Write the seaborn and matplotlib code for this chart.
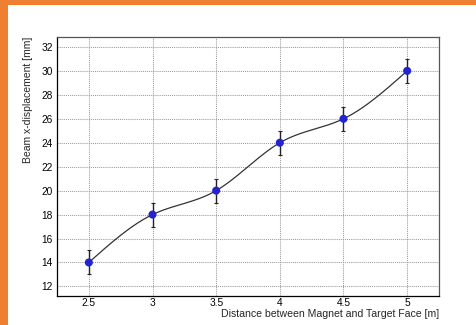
import numpy as np
import pandas as pd
import seaborn as sns
import matplotlib
matplotlib.use("Agg")
import matplotlib.pyplot as plt
from matplotlib.patches import Rectangle
from matplotlib.ticker import MultipleLocator

# ---- data ----
distance = [2.5, 3.0, 3.5, 4.0, 4.5, 5.0]
displacement = [14, 18, 20, 24, 26, 30]
disp_err = [1, 1, 1, 1, 1, 1]
x_ticks = [2.5, 3, 3.5, 4, 4.5, 5]
y_ticks = [12, 14, 16, 18, 20, 22, 24, 26, 28, 30, 32]
x_label = "Distance between Magnet and Target Face [m]"
y_label = "Beam x-displacement [mm]"

df = pd.DataFrame({"distance": distance, "displacement": displacement, "err": disp_err})


def natural_spline(x, y, n=300):
    x = np.asarray(x, float)
    y = np.asarray(y, float)
    k = len(x)
    h = np.diff(x)
    A = np.zeros((k, k))
    b = np.zeros(k)
    A[0, 0] = A[-1, -1] = 1
    for i in range(1, k - 1):
        A[i, i - 1] = h[i - 1]
        A[i, i] = 2 * (h[i - 1] + h[i])
        A[i, i + 1] = h[i]
        b[i] = 3 * ((y[i + 1] - y[i]) / h[i] - (y[i] - y[i - 1]) / h[i - 1])
    c = np.linalg.solve(A, b)
    xs = np.linspace(x[0], x[-1], n)
    ys = np.empty_like(xs)
    for j, xv in enumerate(xs):
        i = min(np.searchsorted(x, xv, side="right") - 1, k - 2)
        dx = xv - x[i]
        bi = (y[i + 1] - y[i]) / h[i] - h[i] * (2 * c[i] + c[i + 1]) / 3
        di = (c[i + 1] - c[i]) / (3 * h[i])
        ys[j] = y[i] + bi * dx + c[i] * dx ** 2 + di * dx ** 3
    return xs, ys


sns.set_style("white")
plt.rcParams["font.family"] = ["Liberation Sans", "DejaVu Sans"]

W, H = 477, 325
fig = plt.figure(figsize=(W / 100, H / 100), dpi=100)
fig.patch.set_facecolor("white")

# orange frame (top and left strips)
orange = "#ef7f31"
fig.patches.append(Rectangle((0, 1 - 5 / H), 1, 5 / H, transform=fig.transFigure,
                             facecolor=orange, edgecolor="none", zorder=0))
fig.patches.append(Rectangle((0, 0), 8 / W, 1, transform=fig.transFigure,
                             facecolor=orange, edgecolor="none", zorder=0))

left, right, top, bottom = 57, 439, 37, 296
ax = fig.add_axes([left / W, 1 - bottom / H, (right - left) / W, (bottom - top) / H])

# smooth curve through the points
cx, cy = natural_spline(df["distance"], df["displacement"])
sns.lineplot(x=cx, y=cy, ax=ax, color="#333333", linewidth=0.9, zorder=3, sort=False)

ax.errorbar(df["distance"], df["displacement"], yerr=df["err"], fmt="none",
            ecolor="#222222", elinewidth=1.0, capsize=1.5, capthick=0.8, zorder=4)
sns.scatterplot(data=df, x="distance", y="displacement", ax=ax, color="#2323d0",
                s=34, edgecolor="none", zorder=5)

ax.set_xlim(2.25, 5.25)
ax.set_ylim(11.2, 32.83)
ax.set_xticks(x_ticks)
ax.set_xticklabels([f"{v:g}" for v in x_ticks])
ax.set_yticks(y_ticks)
ax.set_yticklabels([f"{v:g}" for v in y_ticks])
ax.xaxis.set_minor_locator(MultipleLocator(0.1))
ax.yaxis.set_minor_locator(MultipleLocator(0.4))

ax.grid(True, which="major", linestyle=(0, (1, 1)), color="#9a9a9a", linewidth=0.75)
ax.set_axisbelow(True)

ax.tick_params(axis="both", which="both", direction="in", top=False, right=False,
               labelsize=7.3, colors="black", width=0.8)
ax.tick_params(axis="y", which="major", length=8, pad=3)
ax.tick_params(axis="y", which="minor", length=4)
ax.tick_params(axis="x", which="major", length=6, pad=1.5)
ax.tick_params(axis="x", which="minor", length=3)

for s in ax.spines.values():
    s.set_color("black")
    s.set_linewidth(0.9)
ax.spines["top"].set_color("#555555")
ax.spines["right"].set_color("#555555")

ax.set_xlabel("")
ax.set_ylabel("")
fig.text(right / W, 1 - 314 / H, x_label, ha="right", va="center", fontsize=7.6)
fig.text(28 / W, 1 - top / H, y_label, ha="center", va="top", rotation=90, fontsize=7.5)

fig.savefig("out.png", dpi=100)
